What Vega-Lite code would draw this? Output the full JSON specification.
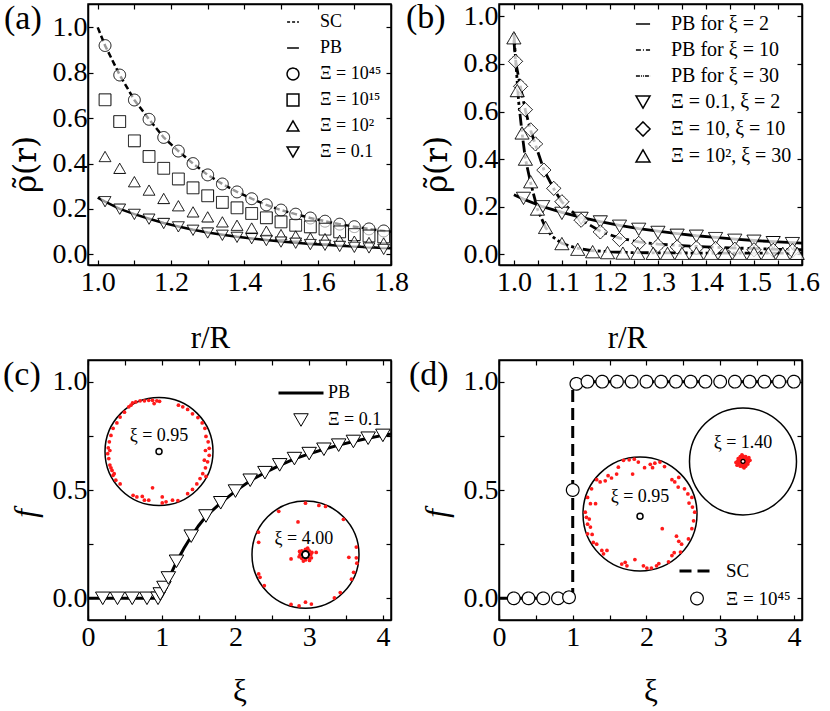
{
  "$schema": "https://vega.github.io/schema/vega-lite/v6.json",
  "background": "white",
  "padding": {"left": 2, "top": 0, "right": 0, "bottom": 0},
  "columns": 2,
  "spacing": {"row": 3, "column": -5},
  "align": "each",
  "resolve": {
    "scale": {"shape": "independent", "strokeDash": "independent", "size": "independent", "strokeWidth": "independent"},
    "legend": {"shape": "independent", "strokeDash": "independent", "size": "independent", "strokeWidth": "independent"}
  },
  "concat": [
    {
      "width": 303,
      "height": 261,
      "title": {"text": "(a)", "dx": -6},
      "resolve": {"axis": {"x": "independent", "y": "independent"}},
      "layer": [
        {
          "data": {"values": [
            {"s": "SC", "x": 1.0, "y": 1.0}, {"s": "SC", "x": 1.02, "y": 0.92}, {"s": "SC", "x": 1.06, "y": 0.79},
            {"s": "SC", "x": 1.10, "y": 0.68}, {"s": "SC", "x": 1.14, "y": 0.595}, {"s": "SC", "x": 1.18, "y": 0.515},
            {"s": "SC", "x": 1.22, "y": 0.455}, {"s": "SC", "x": 1.26, "y": 0.40}, {"s": "SC", "x": 1.30, "y": 0.35},
            {"s": "SC", "x": 1.34, "y": 0.31}, {"s": "SC", "x": 1.38, "y": 0.275}, {"s": "SC", "x": 1.42, "y": 0.245},
            {"s": "SC", "x": 1.46, "y": 0.218}, {"s": "SC", "x": 1.50, "y": 0.195}, {"s": "SC", "x": 1.54, "y": 0.177},
            {"s": "SC", "x": 1.58, "y": 0.16}, {"s": "SC", "x": 1.62, "y": 0.146}, {"s": "SC", "x": 1.66, "y": 0.133},
            {"s": "SC", "x": 1.70, "y": 0.122}, {"s": "SC", "x": 1.74, "y": 0.112}, {"s": "SC", "x": 1.78, "y": 0.103},
            {"s": "SC", "x": 1.80, "y": 0.099}
          ]},
          "mark": {"type": "line", "color": "black", "strokeWidth": 2.5, "strokeDash": [6, 3]},
          "encoding": {
            "x": {"field": "x", "type": "quantitative", "scale": {"domain": [0.9735, 1.8], "nice": false, "zero": false},
              "axis": {"orient": "bottom", "values": [1.0, 1.1, 1.2, 1.3, 1.4, 1.5, 1.6, 1.7, 1.8],
                "labelExpr": "round(datum.value*10)%2==0 ? format(datum.value,'.1f') : ''", "labelPadding": 8,
                "title": "r/R", "titleX": 122, "titlePadding": 27}},
            "y": {"field": "y", "type": "quantitative", "scale": {"domain": [-0.047, 1.103], "nice": false, "zero": false},
              "axis": {"orient": "left", "values": [0, 0.2, 0.4, 0.6, 0.8, 1.0], "format": ".1f",
                "title": "ρ\u0303(r)", "titleFont": "DejaVu Serif", "titleFontSize": 31, "titleY": 160, "titlePadding": 10}}
          }
        },
        {
          "data": {"values": [
            {"s": "PB", "x": 1.0, "y": 0.25}, {"s": "PB", "x": 1.02, "y": 0.232}, {"s": "PB", "x": 1.06, "y": 0.20},
            {"s": "PB", "x": 1.10, "y": 0.177}, {"s": "PB", "x": 1.14, "y": 0.157}, {"s": "PB", "x": 1.18, "y": 0.138},
            {"s": "PB", "x": 1.22, "y": 0.123}, {"s": "PB", "x": 1.26, "y": 0.108}, {"s": "PB", "x": 1.30, "y": 0.096},
            {"s": "PB", "x": 1.34, "y": 0.086}, {"s": "PB", "x": 1.38, "y": 0.077}, {"s": "PB", "x": 1.42, "y": 0.070},
            {"s": "PB", "x": 1.46, "y": 0.063}, {"s": "PB", "x": 1.50, "y": 0.057}, {"s": "PB", "x": 1.54, "y": 0.051},
            {"s": "PB", "x": 1.58, "y": 0.046}, {"s": "PB", "x": 1.62, "y": 0.042}, {"s": "PB", "x": 1.66, "y": 0.038},
            {"s": "PB", "x": 1.70, "y": 0.034}, {"s": "PB", "x": 1.74, "y": 0.031}, {"s": "PB", "x": 1.78, "y": 0.028},
            {"s": "PB", "x": 1.80, "y": 0.027}
          ]},
          "mark": {"type": "line", "color": "black", "strokeWidth": 2.5},
          "encoding": {
            "x": {"field": "x", "type": "quantitative", "scale": {"domain": [0.9735, 1.8], "nice": false, "zero": false}, "axis": null},
            "y": {"field": "y", "type": "quantitative", "scale": {"domain": [-0.047, 1.103], "nice": false, "zero": false}, "axis": null}
          }
        },
        {
          "data": {"values": [
            {"s": "Ξ = 10⁴⁵", "x": 1.02, "y": 0.92}, {"s": "Ξ = 10⁴⁵", "x": 1.06, "y": 0.79}, {"s": "Ξ = 10⁴⁵", "x": 1.10, "y": 0.68},
            {"s": "Ξ = 10⁴⁵", "x": 1.14, "y": 0.595}, {"s": "Ξ = 10⁴⁵", "x": 1.18, "y": 0.515}, {"s": "Ξ = 10⁴⁵", "x": 1.22, "y": 0.455},
            {"s": "Ξ = 10⁴⁵", "x": 1.26, "y": 0.40}, {"s": "Ξ = 10⁴⁵", "x": 1.30, "y": 0.35}, {"s": "Ξ = 10⁴⁵", "x": 1.34, "y": 0.31},
            {"s": "Ξ = 10⁴⁵", "x": 1.38, "y": 0.275}, {"s": "Ξ = 10⁴⁵", "x": 1.42, "y": 0.245}, {"s": "Ξ = 10⁴⁵", "x": 1.46, "y": 0.218},
            {"s": "Ξ = 10⁴⁵", "x": 1.50, "y": 0.195}, {"s": "Ξ = 10⁴⁵", "x": 1.54, "y": 0.177}, {"s": "Ξ = 10⁴⁵", "x": 1.58, "y": 0.16},
            {"s": "Ξ = 10⁴⁵", "x": 1.62, "y": 0.146}, {"s": "Ξ = 10⁴⁵", "x": 1.66, "y": 0.133}, {"s": "Ξ = 10⁴⁵", "x": 1.70, "y": 0.122},
            {"s": "Ξ = 10⁴⁵", "x": 1.74, "y": 0.112}, {"s": "Ξ = 10⁴⁵", "x": 1.78, "y": 0.103},
            {"s": "Ξ = 10¹⁵", "x": 1.02, "y": 0.681}, {"s": "Ξ = 10¹⁵", "x": 1.06, "y": 0.585}, {"s": "Ξ = 10¹⁵", "x": 1.10, "y": 0.50},
            {"s": "Ξ = 10¹⁵", "x": 1.14, "y": 0.431}, {"s": "Ξ = 10¹⁵", "x": 1.18, "y": 0.379}, {"s": "Ξ = 10¹⁵", "x": 1.22, "y": 0.332},
            {"s": "Ξ = 10¹⁵", "x": 1.26, "y": 0.293}, {"s": "Ξ = 10¹⁵", "x": 1.30, "y": 0.258}, {"s": "Ξ = 10¹⁵", "x": 1.34, "y": 0.229},
            {"s": "Ξ = 10¹⁵", "x": 1.38, "y": 0.205}, {"s": "Ξ = 10¹⁵", "x": 1.42, "y": 0.180}, {"s": "Ξ = 10¹⁵", "x": 1.46, "y": 0.161},
            {"s": "Ξ = 10¹⁵", "x": 1.50, "y": 0.143}, {"s": "Ξ = 10¹⁵", "x": 1.54, "y": 0.128}, {"s": "Ξ = 10¹⁵", "x": 1.58, "y": 0.121},
            {"s": "Ξ = 10¹⁵", "x": 1.62, "y": 0.111}, {"s": "Ξ = 10¹⁵", "x": 1.66, "y": 0.099}, {"s": "Ξ = 10¹⁵", "x": 1.70, "y": 0.087},
            {"s": "Ξ = 10¹⁵", "x": 1.74, "y": 0.081}, {"s": "Ξ = 10¹⁵", "x": 1.78, "y": 0.077},
            {"s": "Ξ = 10²", "x": 1.02, "y": 0.431}, {"s": "Ξ = 10²", "x": 1.06, "y": 0.379}, {"s": "Ξ = 10²", "x": 1.10, "y": 0.320},
            {"s": "Ξ = 10²", "x": 1.14, "y": 0.283}, {"s": "Ξ = 10²", "x": 1.18, "y": 0.246}, {"s": "Ξ = 10²", "x": 1.22, "y": 0.214},
            {"s": "Ξ = 10²", "x": 1.26, "y": 0.187}, {"s": "Ξ = 10²", "x": 1.30, "y": 0.165}, {"s": "Ξ = 10²", "x": 1.34, "y": 0.143},
            {"s": "Ξ = 10²", "x": 1.38, "y": 0.128}, {"s": "Ξ = 10²", "x": 1.42, "y": 0.116}, {"s": "Ξ = 10²", "x": 1.46, "y": 0.102},
            {"s": "Ξ = 10²", "x": 1.50, "y": 0.087}, {"s": "Ξ = 10²", "x": 1.54, "y": 0.081}, {"s": "Ξ = 10²", "x": 1.58, "y": 0.072},
            {"s": "Ξ = 10²", "x": 1.62, "y": 0.069}, {"s": "Ξ = 10²", "x": 1.66, "y": 0.062}, {"s": "Ξ = 10²", "x": 1.70, "y": 0.058},
            {"s": "Ξ = 10²", "x": 1.74, "y": 0.052}, {"s": "Ξ = 10²", "x": 1.78, "y": 0.050},
            {"s": "Ξ = 0.1", "x": 1.02, "y": 0.232}, {"s": "Ξ = 0.1", "x": 1.06, "y": 0.199}, {"s": "Ξ = 0.1", "x": 1.10, "y": 0.176},
            {"s": "Ξ = 0.1", "x": 1.14, "y": 0.155}, {"s": "Ξ = 0.1", "x": 1.18, "y": 0.136}, {"s": "Ξ = 0.1", "x": 1.22, "y": 0.121},
            {"s": "Ξ = 0.1", "x": 1.26, "y": 0.106}, {"s": "Ξ = 0.1", "x": 1.30, "y": 0.094}, {"s": "Ξ = 0.1", "x": 1.34, "y": 0.084},
            {"s": "Ξ = 0.1", "x": 1.38, "y": 0.075}, {"s": "Ξ = 0.1", "x": 1.42, "y": 0.069}, {"s": "Ξ = 0.1", "x": 1.46, "y": 0.061},
            {"s": "Ξ = 0.1", "x": 1.50, "y": 0.054}, {"s": "Ξ = 0.1", "x": 1.54, "y": 0.049}, {"s": "Ξ = 0.1", "x": 1.58, "y": 0.043},
            {"s": "Ξ = 0.1", "x": 1.62, "y": 0.040}, {"s": "Ξ = 0.1", "x": 1.66, "y": 0.035}, {"s": "Ξ = 0.1", "x": 1.70, "y": 0.031},
            {"s": "Ξ = 0.1", "x": 1.74, "y": 0.028}, {"s": "Ξ = 0.1", "x": 1.78, "y": 0.022}
          ]},
          "mark": {"type": "point", "filled": true, "fill": "white", "fillOpacity": 0.6, "stroke": "black", "strokeWidth": 1, "size": 140, "opacity": 1},
          "encoding": {
            "x": {"field": "x", "type": "quantitative", "scale": {"domain": [0.9735, 1.8], "nice": false, "zero": false},
              "axis": {"orient": "top", "values": [1.0, 1.1, 1.2, 1.3, 1.4, 1.5, 1.6, 1.7, 1.8], "labels": false, "title": null}},
            "y": {"field": "y", "type": "quantitative", "scale": {"domain": [-0.047, 1.103], "nice": false, "zero": false},
              "axis": {"orient": "right", "values": [0, 0.2, 0.4, 0.6, 0.8, 1.0], "labels": false, "title": null}},
            "shape": {"field": "s", "type": "nominal",
              "scale": {"domain": ["SC", "PB", "Ξ = 10⁴⁵", "Ξ = 10¹⁵", "Ξ = 10²", "Ξ = 0.1"],
                "range": ["stroke", "stroke", "circle", "square", "triangle-up", "triangle-down"]},
              "legend": {"title": null, "orient": "top-right", "offset": 9, "labelFontSize": 18, "symbolSize": 140, "labelOffset": 18, "rowPadding": 8}},
            "strokeDash": {"field": "s", "type": "nominal",
              "scale": {"domain": ["SC", "PB", "Ξ = 10⁴⁵", "Ξ = 10¹⁵", "Ξ = 10²", "Ξ = 0.1"],
                "range": [[3, 2], [1, 0], [1, 0], [1, 0], [1, 0], [1, 0]]},
              "legend": {"title": null, "orient": "top-right", "offset": 9, "labelFontSize": 18, "symbolSize": 140, "labelOffset": 18, "rowPadding": 8}}
          }
        }
      ]
    },
    {
      "width": 303,
      "height": 261,
      "title": {"text": "(b)", "dx": -15},
      "resolve": {"axis": {"x": "independent", "y": "independent"}},
      "layer": [
        {
          "data": {"values": [
            {"s": "PB for ξ = 2", "x": 1.0, "y": 0.25}, {"s": "PB for ξ = 2", "x": 1.02, "y": 0.232}, {"s": "PB for ξ = 2", "x": 1.06, "y": 0.20},
            {"s": "PB for ξ = 2", "x": 1.10, "y": 0.176}, {"s": "PB for ξ = 2", "x": 1.14, "y": 0.155}, {"s": "PB for ξ = 2", "x": 1.18, "y": 0.137},
            {"s": "PB for ξ = 2", "x": 1.22, "y": 0.122}, {"s": "PB for ξ = 2", "x": 1.26, "y": 0.108}, {"s": "PB for ξ = 2", "x": 1.30, "y": 0.097},
            {"s": "PB for ξ = 2", "x": 1.34, "y": 0.087}, {"s": "PB for ξ = 2", "x": 1.38, "y": 0.078}, {"s": "PB for ξ = 2", "x": 1.42, "y": 0.071},
            {"s": "PB for ξ = 2", "x": 1.46, "y": 0.064}, {"s": "PB for ξ = 2", "x": 1.50, "y": 0.058}, {"s": "PB for ξ = 2", "x": 1.54, "y": 0.053},
            {"s": "PB for ξ = 2", "x": 1.58, "y": 0.049}, {"s": "PB for ξ = 2", "x": 1.60, "y": 0.047}
          ]},
          "mark": {"type": "line", "color": "black", "strokeWidth": 2.8},
          "encoding": {
            "x": {"field": "x", "type": "quantitative", "scale": {"domain": [0.969, 1.6], "nice": false, "zero": false},
              "axis": {"orient": "bottom", "values": [1.0, 1.05, 1.1, 1.15, 1.2, 1.25, 1.3, 1.35, 1.4, 1.45, 1.5, 1.55, 1.6],
                "labelExpr": "round(datum.value*20)%2==0 ? format(datum.value,'.1f') : ''", "labelPadding": 8,
                "title": "r/R", "titleX": 128, "titlePadding": 27}},
            "y": {"field": "y", "type": "quantitative", "scale": {"domain": [-0.045, 1.052], "nice": false, "zero": false},
              "axis": {"orient": "left", "values": [0, 0.2, 0.4, 0.6, 0.8, 1.0], "format": ".1f",
                "title": "ρ\u0303(r)", "titleFont": "DejaVu Serif", "titleFontSize": 31, "titleY": 160, "titlePadding": 10}}
          }
        },
        {
          "data": {"values": [
            {"s": "PB for ξ = 10", "x": 1.0, "y": 0.90}, {"s": "PB for ξ = 10", "x": 1.0035, "y": 0.81}, {"s": "PB for ξ = 10", "x": 1.014, "y": 0.70},
            {"s": "PB for ξ = 10", "x": 1.024, "y": 0.605}, {"s": "PB for ξ = 10", "x": 1.035, "y": 0.52}, {"s": "PB for ξ = 10", "x": 1.045, "y": 0.46},
            {"s": "PB for ξ = 10", "x": 1.0625, "y": 0.355}, {"s": "PB for ξ = 10", "x": 1.083, "y": 0.275}, {"s": "PB for ξ = 10", "x": 1.10, "y": 0.22},
            {"s": "PB for ξ = 10", "x": 1.14, "y": 0.145}, {"s": "PB for ξ = 10", "x": 1.18, "y": 0.097}, {"s": "PB for ξ = 10", "x": 1.22, "y": 0.068},
            {"s": "PB for ξ = 10", "x": 1.26, "y": 0.052}, {"s": "PB for ξ = 10", "x": 1.30, "y": 0.043}, {"s": "PB for ξ = 10", "x": 1.35, "y": 0.036},
            {"s": "PB for ξ = 10", "x": 1.40, "y": 0.031}, {"s": "PB for ξ = 10", "x": 1.45, "y": 0.027}, {"s": "PB for ξ = 10", "x": 1.50, "y": 0.024},
            {"s": "PB for ξ = 10", "x": 1.55, "y": 0.021}, {"s": "PB for ξ = 10", "x": 1.60, "y": 0.019}
          ]},
          "mark": {"type": "line", "color": "black", "strokeWidth": 2.8, "strokeDash": [12, 4, 3, 4]},
          "encoding": {
            "x": {"field": "x", "type": "quantitative", "scale": {"domain": [0.969, 1.6], "nice": false, "zero": false}, "axis": null},
            "y": {"field": "y", "type": "quantitative", "scale": {"domain": [-0.045, 1.052], "nice": false, "zero": false}, "axis": null}
          }
        },
        {
          "data": {"values": [
            {"s": "PB for ξ = 30", "x": 1.0, "y": 0.93}, {"s": "PB for ξ = 30", "x": 1.005, "y": 0.78}, {"s": "PB for ξ = 30", "x": 1.01, "y": 0.64},
            {"s": "PB for ξ = 30", "x": 1.017, "y": 0.51}, {"s": "PB for ξ = 30", "x": 1.024, "y": 0.40}, {"s": "PB for ξ = 30", "x": 1.035, "y": 0.30},
            {"s": "PB for ξ = 30", "x": 1.049, "y": 0.19}, {"s": "PB for ξ = 30", "x": 1.066, "y": 0.112}, {"s": "PB for ξ = 30", "x": 1.08, "y": 0.075},
            {"s": "PB for ξ = 30", "x": 1.10, "y": 0.046}, {"s": "PB for ξ = 30", "x": 1.13, "y": 0.026}, {"s": "PB for ξ = 30", "x": 1.16, "y": 0.016},
            {"s": "PB for ξ = 30", "x": 1.20, "y": 0.010}, {"s": "PB for ξ = 30", "x": 1.25, "y": 0.007}, {"s": "PB for ξ = 30", "x": 1.30, "y": 0.006},
            {"s": "PB for ξ = 30", "x": 1.40, "y": 0.005}, {"s": "PB for ξ = 30", "x": 1.50, "y": 0.005}, {"s": "PB for ξ = 30", "x": 1.60, "y": 0.005}
          ]},
          "mark": {"type": "line", "color": "black", "strokeWidth": 2.8, "strokeDash": [12, 3, 3, 3, 3, 3]},
          "encoding": {
            "x": {"field": "x", "type": "quantitative", "scale": {"domain": [0.969, 1.6], "nice": false, "zero": false}, "axis": null},
            "y": {"field": "y", "type": "quantitative", "scale": {"domain": [-0.045, 1.052], "nice": false, "zero": false}, "axis": null}
          }
        },
        {
          "data": {"values": [
            {"s": "Ξ = 0.1, ξ = 2", "x": 1.02, "y": 0.235}, {"s": "Ξ = 0.1, ξ = 2", "x": 1.06, "y": 0.200}, {"s": "Ξ = 0.1, ξ = 2", "x": 1.10, "y": 0.172},
            {"s": "Ξ = 0.1, ξ = 2", "x": 1.14, "y": 0.151}, {"s": "Ξ = 0.1, ξ = 2", "x": 1.18, "y": 0.136}, {"s": "Ξ = 0.1, ξ = 2", "x": 1.22, "y": 0.118},
            {"s": "Ξ = 0.1, ξ = 2", "x": 1.26, "y": 0.105}, {"s": "Ξ = 0.1, ξ = 2", "x": 1.30, "y": 0.092}, {"s": "Ξ = 0.1, ξ = 2", "x": 1.34, "y": 0.080},
            {"s": "Ξ = 0.1, ξ = 2", "x": 1.38, "y": 0.076}, {"s": "Ξ = 0.1, ξ = 2", "x": 1.42, "y": 0.066}, {"s": "Ξ = 0.1, ξ = 2", "x": 1.46, "y": 0.059},
            {"s": "Ξ = 0.1, ξ = 2", "x": 1.50, "y": 0.055}, {"s": "Ξ = 0.1, ξ = 2", "x": 1.54, "y": 0.049}, {"s": "Ξ = 0.1, ξ = 2", "x": 1.58, "y": 0.045},
            {"s": "Ξ = 10,  ξ = 10", "x": 1.0035, "y": 0.811}, {"s": "Ξ = 10,  ξ = 10", "x": 1.014, "y": 0.706}, {"s": "Ξ = 10,  ξ = 10", "x": 1.024, "y": 0.608},
            {"s": "Ξ = 10,  ξ = 10", "x": 1.035, "y": 0.523}, {"s": "Ξ = 10,  ξ = 10", "x": 1.045, "y": 0.464}, {"s": "Ξ = 10,  ξ = 10", "x": 1.0625, "y": 0.354},
            {"s": "Ξ = 10,  ξ = 10", "x": 1.083, "y": 0.277}, {"s": "Ξ = 10,  ξ = 10", "x": 1.10, "y": 0.221}, {"s": "Ξ = 10,  ξ = 10", "x": 1.14, "y": 0.143},
            {"s": "Ξ = 10,  ξ = 10", "x": 1.18, "y": 0.094}, {"s": "Ξ = 10,  ξ = 10", "x": 1.22, "y": 0.062}, {"s": "Ξ = 10,  ξ = 10", "x": 1.26, "y": 0.046},
            {"s": "Ξ = 10,  ξ = 10", "x": 1.30, "y": 0.037}, {"s": "Ξ = 10,  ξ = 10", "x": 1.34, "y": 0.031}, {"s": "Ξ = 10,  ξ = 10", "x": 1.38, "y": 0.027},
            {"s": "Ξ = 10,  ξ = 10", "x": 1.42, "y": 0.024}, {"s": "Ξ = 10,  ξ = 10", "x": 1.46, "y": 0.021}, {"s": "Ξ = 10,  ξ = 10", "x": 1.50, "y": 0.019},
            {"s": "Ξ = 10,  ξ = 10", "x": 1.54, "y": 0.017}, {"s": "Ξ = 10,  ξ = 10", "x": 1.58, "y": 0.015},
            {"s": "Ξ = 10², ξ = 30", "x": 1.0, "y": 0.91}, {"s": "Ξ = 10², ξ = 30", "x": 1.007, "y": 0.688}, {"s": "Ξ = 10², ξ = 30", "x": 1.017, "y": 0.51},
            {"s": "Ξ = 10², ξ = 30", "x": 1.024, "y": 0.40}, {"s": "Ξ = 10², ξ = 30", "x": 1.035, "y": 0.305}, {"s": "Ξ = 10², ξ = 30", "x": 1.049, "y": 0.19},
            {"s": "Ξ = 10², ξ = 30", "x": 1.066, "y": 0.113}, {"s": "Ξ = 10², ξ = 30", "x": 1.10, "y": 0.045}, {"s": "Ξ = 10², ξ = 30", "x": 1.133, "y": 0.021},
            {"s": "Ξ = 10², ξ = 30", "x": 1.164, "y": 0.011}, {"s": "Ξ = 10², ξ = 30", "x": 1.195, "y": 0.007}, {"s": "Ξ = 10², ξ = 30", "x": 1.227, "y": 0.005},
            {"s": "Ξ = 10², ξ = 30", "x": 1.258, "y": 0.004}, {"s": "Ξ = 10², ξ = 30", "x": 1.29, "y": 0.004}, {"s": "Ξ = 10², ξ = 30", "x": 1.32, "y": 0.004},
            {"s": "Ξ = 10², ξ = 30", "x": 1.35, "y": 0.004}, {"s": "Ξ = 10², ξ = 30", "x": 1.38, "y": 0.004}, {"s": "Ξ = 10², ξ = 30", "x": 1.41, "y": 0.004},
            {"s": "Ξ = 10², ξ = 30", "x": 1.44, "y": 0.004}, {"s": "Ξ = 10², ξ = 30", "x": 1.47, "y": 0.004}, {"s": "Ξ = 10², ξ = 30", "x": 1.50, "y": 0.004},
            {"s": "Ξ = 10², ξ = 30", "x": 1.53, "y": 0.004}, {"s": "Ξ = 10², ξ = 30", "x": 1.56, "y": 0.004}, {"s": "Ξ = 10², ξ = 30", "x": 1.59, "y": 0.004}
          ]},
          "mark": {"type": "point", "filled": true, "fill": "white", "fillOpacity": 0.75, "stroke": "black", "strokeWidth": 1, "size": 200, "opacity": 1},
          "encoding": {
            "x": {"field": "x", "type": "quantitative", "scale": {"domain": [0.969, 1.6], "nice": false, "zero": false},
              "axis": {"orient": "top", "values": [1.0, 1.05, 1.1, 1.15, 1.2, 1.25, 1.3, 1.35, 1.4, 1.45, 1.5, 1.55, 1.6], "labels": false, "title": null}},
            "y": {"field": "y", "type": "quantitative", "scale": {"domain": [-0.045, 1.052], "nice": false, "zero": false},
              "axis": {"orient": "right", "values": [0, 0.2, 0.4, 0.6, 0.8, 1.0], "labels": false, "title": null}},
            "shape": {"field": "s", "type": "nominal",
              "scale": {"domain": ["PB for ξ = 2", "PB for ξ = 10", "PB for ξ = 30", "Ξ = 0.1, ξ = 2", "Ξ = 10,  ξ = 10", "Ξ = 10², ξ = 30"],
                "range": ["stroke", "stroke", "stroke", "triangle-down", "diamond", "triangle-up"]},
              "legend": {"title": null, "orient": "top-right", "offset": 10, "labelFontSize": 20, "symbolSize": 200, "labelOffset": 18, "rowPadding": 6}},
            "strokeDash": {"field": "s", "type": "nominal",
              "scale": {"domain": ["PB for ξ = 2", "PB for ξ = 10", "PB for ξ = 30", "Ξ = 0.1, ξ = 2", "Ξ = 10,  ξ = 10", "Ξ = 10², ξ = 30"],
                "range": [[1, 0], [5, 2, 1, 2], [4, 1, 1, 1, 1, 1], [1, 0], [1, 0], [1, 0]]},
              "legend": {"title": null, "orient": "top-right", "offset": 10, "labelFontSize": 20, "symbolSize": 200, "labelOffset": 18, "rowPadding": 6}}
          }
        }
      ]
    },
    {
      "width": 303,
      "height": 260,
      "title": {"text": "(c)", "dx": -7},
      "resolve": {"scale": {"x": "independent", "y": "independent"}},
      "layer": [
        {
          "resolve": {"axis": {"x": "independent", "y": "independent"}},
          "layer": [
            {
              "data": {"values": [
                {"s": "PB", "x": 0, "y": 0}, {"s": "PB", "x": 0.95, "y": 0}, {"s": "PB", "x": 1.0, "y": 0.012}, {"s": "PB", "x": 1.05, "y": 0.05},
                {"s": "PB", "x": 1.1, "y": 0.095}, {"s": "PB", "x": 1.2, "y": 0.168}, {"s": "PB", "x": 1.3, "y": 0.23}, {"s": "PB", "x": 1.4, "y": 0.285},
                {"s": "PB", "x": 1.5, "y": 0.335}, {"s": "PB", "x": 1.6, "y": 0.378}, {"s": "PB", "x": 1.8, "y": 0.441}, {"s": "PB", "x": 2.0, "y": 0.495},
                {"s": "PB", "x": 2.2, "y": 0.543}, {"s": "PB", "x": 2.4, "y": 0.58}, {"s": "PB", "x": 2.6, "y": 0.614}, {"s": "PB", "x": 2.8, "y": 0.644},
                {"s": "PB", "x": 3.0, "y": 0.667}, {"s": "PB", "x": 3.2, "y": 0.688}, {"s": "PB", "x": 3.4, "y": 0.707}, {"s": "PB", "x": 3.6, "y": 0.724},
                {"s": "PB", "x": 3.8, "y": 0.739}, {"s": "PB", "x": 4.0, "y": 0.752}, {"s": "PB", "x": 4.11, "y": 0.758}
              ]},
              "mark": {"type": "line", "color": "black", "strokeWidth": 3},
              "encoding": {
                "x": {"field": "x", "type": "quantitative", "scale": {"domain": [0, 4.11], "nice": false, "zero": false},
                  "axis": {"orient": "bottom", "values": [0, 0.5, 1, 1.5, 2, 2.5, 3, 3.5, 4],
                    "labelExpr": "datum.value%1==0 ? format(datum.value,'d') : ''", "labelPadding": 8,
                    "title": "ξ", "titlePadding": 25}},
                "y": {"field": "y", "type": "quantitative", "scale": {"domain": [-0.1, 1.1], "nice": false, "zero": false},
                  "axis": {"orient": "left", "values": [0, 0.25, 0.5, 0.75, 1.0],
                    "labelExpr": "round(datum.value*4)%2==0 ? format(datum.value,'.1f') : ''",
                    "title": "f", "titleFontStyle": "italic", "titleY": 153, "titlePadding": 10}}
              }
            },
            {
              "data": {"values": [
                {"s": "Ξ = 0.1", "x": 0.2, "y": 0}, {"s": "Ξ = 0.1", "x": 0.4, "y": 0}, {"s": "Ξ = 0.1", "x": 0.6, "y": 0},
                {"s": "Ξ = 0.1", "x": 0.8, "y": 0}, {"s": "Ξ = 0.1", "x": 0.95, "y": 0}, {"s": "Ξ = 0.1", "x": 0.98, "y": 0.02},
                {"s": "Ξ = 0.1", "x": 1.03, "y": 0.05}, {"s": "Ξ = 0.1", "x": 1.09, "y": 0.094}, {"s": "Ξ = 0.1", "x": 1.2, "y": 0.171},
                {"s": "Ξ = 0.1", "x": 1.4, "y": 0.287}, {"s": "Ξ = 0.1", "x": 1.6, "y": 0.38}, {"s": "Ξ = 0.1", "x": 1.8, "y": 0.441},
                {"s": "Ξ = 0.1", "x": 2.0, "y": 0.495}, {"s": "Ξ = 0.1", "x": 2.2, "y": 0.545}, {"s": "Ξ = 0.1", "x": 2.4, "y": 0.58},
                {"s": "Ξ = 0.1", "x": 2.6, "y": 0.616}, {"s": "Ξ = 0.1", "x": 2.8, "y": 0.645}, {"s": "Ξ = 0.1", "x": 3.0, "y": 0.668},
                {"s": "Ξ = 0.1", "x": 3.2, "y": 0.688}, {"s": "Ξ = 0.1", "x": 3.4, "y": 0.707}, {"s": "Ξ = 0.1", "x": 3.6, "y": 0.724},
                {"s": "Ξ = 0.1", "x": 3.8, "y": 0.739}, {"s": "Ξ = 0.1", "x": 4.0, "y": 0.752}
              ]},
              "mark": {"type": "point", "filled": true, "fill": "white", "fillOpacity": 1, "stroke": "black", "opacity": 1},
              "encoding": {
                "x": {"field": "x", "type": "quantitative", "scale": {"domain": [0, 4.11], "nice": false, "zero": false},
                  "axis": {"orient": "top", "values": [0, 0.5, 1, 1.5, 2, 2.5, 3, 3.5, 4], "labels": false, "title": null}},
                "y": {"field": "y", "type": "quantitative", "scale": {"domain": [-0.1, 1.1], "nice": false, "zero": false},
                  "axis": {"orient": "right", "values": [0, 0.25, 0.5, 0.75, 1.0], "labels": false, "title": null}},
                "shape": {"field": "s", "type": "nominal",
                  "scale": {"domain": ["PB", "Ξ = 0.1"], "range": ["stroke", "triangle-down"]},
                  "legend": {"title": null, "orient": "top-right", "offset": 9, "labelFontSize": 18, "labelOffset": 3, "rowPadding": 9}},
                "size": {"field": "s", "type": "nominal",
                  "scale": {"domain": ["PB", "Ξ = 0.1"], "range": [2025, 210]},
                  "legend": {"title": null, "orient": "top-right", "offset": 9, "labelFontSize": 18, "labelOffset": 3, "rowPadding": 9}},
                "strokeWidth": {"field": "s", "type": "nominal",
                  "scale": {"domain": ["PB", "Ξ = 0.1"], "range": [3, 1]},
                  "legend": {"title": null, "orient": "top-right", "offset": 9, "labelFontSize": 18, "labelOffset": 3, "rowPadding": 9}}
              }
            }
          ]
        },
        {
          "encoding": {
            "x": {"field": "u", "type": "quantitative", "scale": {"domain": [-1.315, 4.296], "nice": false, "zero": false}, "axis": null},
            "y": {"field": "v", "type": "quantitative", "scale": {"domain": [-3.119, 1.696], "nice": false, "zero": false}, "axis": null}
          },
          "layer": [
            {"data": {"values": [{"u": 0, "v": 0}]},
             "mark": {"type": "point", "shape": "circle", "size": 11664, "filled": false, "color": "black", "strokeWidth": 1.5, "opacity": 1}},
            {"data": {"values": [
              {"u": -0.49, "v": 0.90}, {"u": -0.43, "v": 0.92}, {"u": -0.35, "v": 0.94}, {"u": -0.27, "v": 0.94}, {"u": -0.19, "v": 0.95},
              {"u": -0.12, "v": 0.95}, {"u": -0.04, "v": 0.94}, {"u": 0.01, "v": 0.93}, {"u": -0.56, "v": 0.83}, {"u": -0.64, "v": 0.73},
              {"u": -0.72, "v": 0.64}, {"u": -0.78, "v": 0.53}, {"u": -0.85, "v": 0.43}, {"u": -0.89, "v": 0.30}, {"u": -0.92, "v": 0.18},
              {"u": -0.94, "v": 0.07}, {"u": -0.95, "v": -0.04}, {"u": -0.93, "v": -0.13}, {"u": -0.91, "v": -0.25}, {"u": -0.87, "v": -0.35},
              {"u": -0.85, "v": -0.44}, {"u": -0.80, "v": -0.53}, {"u": -0.72, "v": -0.60}, {"u": -0.48, "v": -0.81}, {"u": -0.41, "v": -0.84},
              {"u": -0.31, "v": -0.83}, {"u": -0.27, "v": -0.90}, {"u": -0.19, "v": -0.90}, {"u": -0.12, "v": -0.67}, {"u": 0.06, "v": -0.84},
              {"u": 0.06, "v": -0.95}, {"u": 0.13, "v": -0.93}, {"u": 0.25, "v": -0.90}, {"u": 0.35, "v": -0.91}, {"u": 0.53, "v": -0.78},
              {"u": 0.62, "v": -0.70}, {"u": 0.70, "v": -0.60}, {"u": 0.76, "v": -0.50}, {"u": 0.81, "v": -0.41}, {"u": 0.86, "v": -0.30},
              {"u": 0.90, "v": -0.19}, {"u": 0.93, "v": -0.07}, {"u": 0.93, "v": 0.06}, {"u": 0.91, "v": 0.18}, {"u": 0.87, "v": 0.28},
              {"u": 0.85, "v": 0.43}, {"u": 0.80, "v": 0.53}, {"u": 0.72, "v": 0.63}, {"u": 0.62, "v": 0.70}, {"u": 0.53, "v": 0.78},
              {"u": 0.44, "v": 0.83}, {"u": 0.36, "v": 0.86}, {"u": 0.84, "v": -0.16}, {"u": 0.87, "v": -0.46}, {"u": -0.89, "v": -0.30},
              {"u": -0.91, "v": 0.02}, {"u": -0.83, "v": -0.41}, {"u": 0.86, "v": 0.02}, {"u": -0.52, "v": 0.86}, {"u": -0.09, "v": 0.89}
            ]},
             "mark": {"type": "point", "shape": "circle", "size": 14, "filled": true, "color": "#ff1a1a", "opacity": 1}},
            {"data": {"values": [{"u": 0, "v": 0}]},
             "mark": {"type": "point", "shape": "circle", "size": 36, "filled": false, "color": "black", "strokeWidth": 1.5, "opacity": 1}},
            {"data": {"values": [{"u": 0, "v": 0.28, "t": "ξ = 0.95"}]},
             "mark": {"type": "text", "font": "Liberation Serif", "fontSize": 18, "color": "black"},
             "encoding": {"text": {"field": "t"}}}
          ]
        },
        {
          "encoding": {
            "x": {"field": "u", "type": "quantitative", "scale": {"domain": [-4.065, 1.598], "nice": false, "zero": false}, "axis": null},
            "y": {"field": "v", "type": "quantitative", "scale": {"domain": [-1.222, 3.637], "nice": false, "zero": false}, "axis": null}
          },
          "layer": [
            {"data": {"values": [{"u": 0, "v": 0}]},
             "mark": {"type": "point", "shape": "circle", "size": 11449, "filled": false, "color": "black", "strokeWidth": 1.5, "opacity": 1}},
            {"data": {"values": [
              {"u": 0.0, "v": 0.96}, {"u": 0.25, "v": 0.92}, {"u": 0.375, "v": 0.90}, {"u": -0.50, "v": 0.81}, {"u": 0.71, "v": 0.66},
              {"u": -0.88, "v": 0.42}, {"u": -0.875, "v": 0.23}, {"u": -0.14, "v": 0.61}, {"u": 0.95, "v": 0.14}, {"u": 0.81, "v": -0.05},
              {"u": 0.95, "v": -0.06}, {"u": 0.96, "v": -0.16}, {"u": 0.90, "v": -0.33}, {"u": 0.86, "v": -0.46}, {"u": -0.875, "v": -0.36},
              {"u": -0.85, "v": -0.425}, {"u": -0.77, "v": -0.58}, {"u": -0.27, "v": -0.08}, {"u": 0.20, "v": 0.04}, {"u": 0.54, "v": -0.81},
              {"u": 0.65, "v": -0.71}, {"u": 0.0, "v": -0.89}, {"u": 0.11, "v": -0.925}, {"u": -0.27, "v": -0.93}, {"u": -0.12, "v": -0.96},
              {"u": 0.075, "v": -0.11},
              {"u": 0.1, "v": 0}, {"u": 0.07, "v": 0.07}, {"u": 0, "v": 0.1}, {"u": -0.07, "v": 0.07}, {"u": -0.1, "v": 0},
              {"u": -0.07, "v": -0.07}, {"u": 0, "v": -0.1}, {"u": 0.07, "v": -0.07}, {"u": 0.12, "v": 0.04}, {"u": -0.12, "v": -0.04},
              {"u": 0.04, "v": 0.12}, {"u": -0.04, "v": -0.12}, {"u": 0.11, "v": -0.06}, {"u": -0.11, "v": 0.06}
            ]},
             "mark": {"type": "point", "shape": "circle", "size": 14, "filled": true, "color": "#ff1a1a", "opacity": 1}},
            {"data": {"values": [{"u": 0, "v": 0}]},
             "mark": {"type": "point", "shape": "circle", "size": 50, "filled": false, "color": "black", "strokeWidth": 2, "opacity": 1}},
            {"data": {"values": [{"u": -0.03, "v": 0.30, "t": "ξ = 4.00"}]},
             "mark": {"type": "text", "font": "Liberation Serif", "fontSize": 18, "color": "black"},
             "encoding": {"text": {"field": "t"}}}
          ]
        }
      ]
    },
    {
      "width": 303,
      "height": 260,
      "title": {"text": "(d)", "dx": -12},
      "resolve": {"scale": {"x": "independent", "y": "independent"}},
      "layer": [
        {
          "resolve": {"axis": {"x": "independent", "y": "independent"}},
          "layer": [
            {
              "data": {"values": [
                {"s": "SC", "i": 0, "x": 0, "y": 0}, {"s": "SC", "i": 1, "x": 1, "y": 0},
                {"s": "SC", "i": 2, "x": 1, "y": 1}, {"s": "SC", "i": 3, "x": 4.11, "y": 1}
              ]},
              "mark": {"type": "line", "color": "black", "strokeWidth": 3, "strokeDash": [12, 6]},
              "encoding": {
                "x": {"field": "x", "type": "quantitative", "scale": {"domain": [0, 4.11], "nice": false, "zero": false},
                  "axis": {"orient": "bottom", "values": [0, 0.5, 1, 1.5, 2, 2.5, 3, 3.5, 4],
                    "labelExpr": "datum.value%1==0 ? format(datum.value,'d') : ''", "labelPadding": 8,
                    "title": "ξ", "titlePadding": 25}},
                "y": {"field": "y", "type": "quantitative", "scale": {"domain": [-0.1, 1.1], "nice": false, "zero": false},
                  "axis": {"orient": "left", "values": [0, 0.25, 0.5, 0.75, 1.0],
                    "labelExpr": "round(datum.value*4)%2==0 ? format(datum.value,'.1f') : ''",
                    "title": "f", "titleFontStyle": "italic", "titleY": 153, "titlePadding": 10}},
                "order": {"field": "i", "type": "quantitative"}
              }
            },
            {
              "data": {"values": [
                {"s": "Ξ = 10⁴⁵", "x": 0.2, "y": 0}, {"s": "Ξ = 10⁴⁵", "x": 0.4, "y": 0}, {"s": "Ξ = 10⁴⁵", "x": 0.6, "y": 0},
                {"s": "Ξ = 10⁴⁵", "x": 0.8, "y": 0}, {"s": "Ξ = 10⁴⁵", "x": 0.95, "y": 0.005}, {"s": "Ξ = 10⁴⁵", "x": 1.0, "y": 0.5},
                {"s": "Ξ = 10⁴⁵", "x": 1.05, "y": 0.99}, {"s": "Ξ = 10⁴⁵", "x": 1.2, "y": 1}, {"s": "Ξ = 10⁴⁵", "x": 1.4, "y": 1},
                {"s": "Ξ = 10⁴⁵", "x": 1.6, "y": 1}, {"s": "Ξ = 10⁴⁵", "x": 1.8, "y": 1}, {"s": "Ξ = 10⁴⁵", "x": 2.0, "y": 1},
                {"s": "Ξ = 10⁴⁵", "x": 2.2, "y": 1}, {"s": "Ξ = 10⁴⁵", "x": 2.4, "y": 1}, {"s": "Ξ = 10⁴⁵", "x": 2.6, "y": 1},
                {"s": "Ξ = 10⁴⁵", "x": 2.8, "y": 1}, {"s": "Ξ = 10⁴⁵", "x": 3.0, "y": 1}, {"s": "Ξ = 10⁴⁵", "x": 3.2, "y": 1},
                {"s": "Ξ = 10⁴⁵", "x": 3.4, "y": 1}, {"s": "Ξ = 10⁴⁵", "x": 3.6, "y": 1}, {"s": "Ξ = 10⁴⁵", "x": 3.8, "y": 1},
                {"s": "Ξ = 10⁴⁵", "x": 4.0, "y": 1}
              ]},
              "mark": {"type": "point", "filled": true, "fill": "white", "fillOpacity": 1, "stroke": "black", "opacity": 1},
              "encoding": {
                "x": {"field": "x", "type": "quantitative", "scale": {"domain": [0, 4.11], "nice": false, "zero": false},
                  "axis": {"orient": "top", "values": [0, 0.5, 1, 1.5, 2, 2.5, 3, 3.5, 4], "labels": false, "title": null}},
                "y": {"field": "y", "type": "quantitative", "scale": {"domain": [-0.1, 1.1], "nice": false, "zero": false},
                  "axis": {"orient": "right", "values": [0, 0.25, 0.5, 0.75, 1.0], "labels": false, "title": null}},
                "shape": {"field": "s", "type": "nominal",
                  "scale": {"domain": ["SC", "Ξ = 10⁴⁵"], "range": ["stroke", "circle"]},
                  "legend": {"title": null, "orient": "bottom-right", "offset": 11, "labelFontSize": 19, "labelOffset": 10, "rowPadding": 8}},
                "size": {"field": "s", "type": "nominal",
                  "scale": {"domain": ["SC", "Ξ = 10⁴⁵"], "range": [1225, 160]},
                  "legend": {"title": null, "orient": "bottom-right", "offset": 11, "labelFontSize": 19, "labelOffset": 10, "rowPadding": 8}},
                "strokeWidth": {"field": "s", "type": "nominal",
                  "scale": {"domain": ["SC", "Ξ = 10⁴⁵"], "range": [3, 1.2]},
                  "legend": {"title": null, "orient": "bottom-right", "offset": 11, "labelFontSize": 19, "labelOffset": 10, "rowPadding": 8}},
                "strokeDash": {"field": "s", "type": "nominal",
                  "scale": {"domain": ["SC", "Ξ = 10⁴⁵"], "range": [[12, 6], [1, 0]]},
                  "legend": {"title": null, "orient": "bottom-right", "offset": 11, "labelFontSize": 19, "labelOffset": 10, "rowPadding": 8}}
              }
            }
          ]
        },
        {
          "encoding": {
            "x": {"field": "u", "type": "quantitative", "scale": {"domain": [-2.474, 2.842], "nice": false, "zero": false}, "axis": null},
            "y": {"field": "v", "type": "quantitative", "scale": {"domain": [-1.861, 2.700], "nice": false, "zero": false}, "axis": null}
          },
          "layer": [
            {"data": {"values": [{"u": 0, "v": 0}]},
             "mark": {"type": "point", "shape": "circle", "size": 12996, "filled": false, "color": "black", "strokeWidth": 1.5, "opacity": 1}},
            {"data": {"values": [
              {"u": -0.38, "v": 0.82}, {"u": -0.29, "v": 0.94}, {"u": -0.19, "v": 0.95}, {"u": -0.10, "v": 0.96}, {"u": -0.03, "v": 0.91},
              {"u": 0.08, "v": 0.81}, {"u": 0.18, "v": 0.87}, {"u": 0.22, "v": 0.81}, {"u": 0.26, "v": 0.89}, {"u": 0.35, "v": 0.91},
              {"u": 0.43, "v": 0.83}, {"u": -0.13, "v": 0.70}, {"u": -0.56, "v": 0.67}, {"u": -0.50, "v": 0.63}, {"u": -0.41, "v": 0.70},
              {"u": -0.61, "v": 0.58}, {"u": -0.70, "v": 0.56}, {"u": -0.85, "v": 0.44}, {"u": -0.92, "v": 0.29}, {"u": -0.87, "v": 0.18},
              {"u": -0.78, "v": 0.18}, {"u": -0.94, "v": -0.06}, {"u": -0.92, "v": -0.18}, {"u": -0.87, "v": -0.23}, {"u": -0.92, "v": -0.35},
              {"u": -0.84, "v": -0.36}, {"u": -0.82, "v": -0.50}, {"u": -0.76, "v": -0.53}, {"u": -0.64, "v": -0.70}, {"u": -0.58, "v": -0.64},
              {"u": -0.32, "v": -0.88}, {"u": -0.26, "v": -0.85}, {"u": -0.23, "v": -0.91}, {"u": -0.09, "v": -0.80}, {"u": 0.06, "v": -0.91},
              {"u": 0.12, "v": -0.95}, {"u": 0.20, "v": -0.95}, {"u": 0.29, "v": -0.91}, {"u": 0.33, "v": -0.87}, {"u": 0.50, "v": -0.84},
              {"u": 0.56, "v": -0.73}, {"u": 0.60, "v": -0.68}, {"u": 0.71, "v": -0.67}, {"u": 0.73, "v": -0.53}, {"u": 0.68, "v": -0.48},
              {"u": 0.85, "v": -0.44}, {"u": 0.91, "v": -0.26}, {"u": 0.94, "v": -0.12}, {"u": 0.96, "v": 0.03}, {"u": 0.92, "v": 0.12},
              {"u": 0.86, "v": 0.19}, {"u": 0.91, "v": 0.29}, {"u": 0.84, "v": 0.35}, {"u": 0.78, "v": 0.44}, {"u": 0.67, "v": 0.47},
              {"u": 0.61, "v": 0.56}, {"u": 0.68, "v": 0.64}, {"u": 0.56, "v": 0.60}, {"u": 0.39, "v": -0.26}, {"u": 0.64, "v": -0.39},
              {"u": -0.67, "v": -0.64}, {"u": -0.96, "v": 0.03}, {"u": -0.89, "v": -0.09}, {"u": -0.76, "v": 0.60}
            ]},
             "mark": {"type": "point", "shape": "circle", "size": 14, "filled": true, "color": "#ff1a1a", "opacity": 1}},
            {"data": {"values": [{"u": 0, "v": -0.04}]},
             "mark": {"type": "point", "shape": "circle", "size": 36, "filled": false, "color": "black", "strokeWidth": 1.5, "opacity": 1}},
            {"data": {"values": [{"u": 0, "v": 0.29, "t": "ξ = 0.95"}]},
             "mark": {"type": "text", "font": "Liberation Serif", "fontSize": 18, "color": "black"},
             "encoding": {"text": {"field": "t"}}}
          ]
        },
        {
          "encoding": {
            "x": {"field": "u", "type": "quantitative", "scale": {"domain": [-4.561, 1.103], "nice": false, "zero": false}, "axis": null},
            "y": {"field": "v", "type": "quantitative", "scale": {"domain": [-2.964, 1.895], "nice": false, "zero": false}, "axis": null}
          },
          "layer": [
            {"data": {"values": [{"u": 0, "v": 0}]},
             "mark": {"type": "point", "shape": "circle", "size": 11449, "filled": false, "color": "black", "strokeWidth": 1.5, "opacity": 1}},
            {"data": {"values": [
              {"u": 0, "v": 0.1}, {"u": 0.05, "v": 0.09}, {"u": 0.09, "v": 0.05}, {"u": 0.1, "v": 0}, {"u": 0.09, "v": -0.05},
              {"u": 0.05, "v": -0.09}, {"u": 0, "v": -0.1}, {"u": -0.05, "v": -0.09}, {"u": -0.09, "v": -0.05}, {"u": -0.1, "v": 0},
              {"u": -0.09, "v": 0.05}, {"u": -0.05, "v": 0.09}, {"u": 0.04, "v": 0.04}, {"u": -0.04, "v": 0.04}, {"u": 0.04, "v": -0.04},
              {"u": -0.04, "v": -0.04}, {"u": 0.13, "v": 0.02}, {"u": -0.13, "v": -0.02}, {"u": 0.02, "v": -0.12}, {"u": -0.02, "v": 0.12},
              {"u": 0.07, "v": 0}, {"u": -0.07, "v": 0}, {"u": 0, "v": 0.06}, {"u": 0, "v": -0.06}, {"u": 0.11, "v": 0.07}, {"u": -0.11, "v": -0.07}
            ]},
             "mark": {"type": "point", "shape": "circle", "size": 14, "filled": true, "color": "#ff1a1a", "opacity": 1}},
            {"data": {"values": [{"u": 0, "v": 0}]},
             "mark": {"type": "point", "shape": "circle", "size": 16, "filled": false, "color": "black", "strokeWidth": 1.2, "opacity": 1}},
            {"data": {"values": [{"u": 0, "v": 0.34, "t": "ξ = 1.40"}]},
             "mark": {"type": "text", "font": "Liberation Serif", "fontSize": 18, "color": "black"},
             "encoding": {"text": {"field": "t"}}}
          ]
        }
      ]
    }
  ],
  "config": {
    "font": "Liberation Serif",
    "view": {"stroke": "black", "strokeWidth": 1.5},
    "title": {"anchor": "start", "frame": "bounds", "offset": -33, "fontSize": 34, "font": "Liberation Serif", "fontWeight": "normal", "color": "black"},
    "axis": {"grid": false, "domainColor": "black", "domainWidth": 1.5, "tickColor": "black", "tickWidth": 1.2, "tickSize": -5,
      "labelFont": "Liberation Serif", "labelFontSize": 28, "labelColor": "black", "labelPadding": 6, "labelFlush": false, "labelOverlap": false,
      "titleFont": "Liberation Serif", "titleFontSize": 31, "titleFontWeight": "normal", "titleColor": "black"},
    "legend": {"labelFont": "Liberation Serif", "labelColor": "black"}
  }
}
